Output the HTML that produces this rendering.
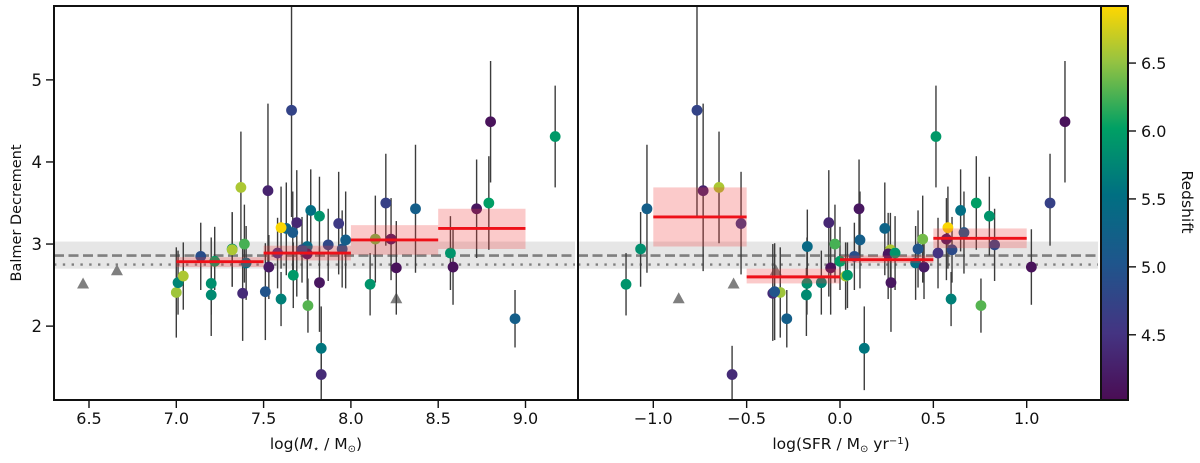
<!DOCTYPE html>
<html>
<head>
<meta charset="utf-8">
<title>Balmer Decrement</title>
<style>
html,body{margin:0;padding:0;background:#fff;}
svg{display:block;}
text{font-family:"DejaVu Sans","Liberation Sans",sans-serif;fill:#111;}
</style>
</head>
<body>
<svg id="chart" xmlns="http://www.w3.org/2000/svg" width="1200" height="463" viewBox="0 0 1200 463">
<defs>
<linearGradient id="cbar-grad" x1="0" y1="1" x2="0" y2="0"></linearGradient>
</defs>
</svg>
<script>
const logMass = [7.0,7.01,7.04,7.14,7.22,7.2,7.2,7.32,7.32,7.39,7.37,7.4,7.38,7.51,7.525,7.53,7.58,7.63,7.6,7.6,7.667,7.66,7.69,7.67,7.75,7.75,7.754,7.77,7.82,7.82,7.83,7.83,7.87,7.93,7.95,7.97,8.11,8.14,8.2,8.23,8.26,8.37,8.57,8.585,8.72,8.79,8.94,8.8,9.17,7.72];
const logSFR = [-0.32,-0.1,0.03,0.077,0.0,-0.177,-0.18,-1.068,0.27,-0.027,-0.648,0.405,-0.36,-0.35,-0.733,0.45,0.525,0.24,0.595,0.578,0.664,-0.766,-0.06,0.04,-0.175,0.258,0.755,0.646,0.8,0.273,0.13,-0.578,0.828,-0.53,0.418,0.107,-1.146,0.443,1.125,0.57,-0.05,-1.034,0.295,1.025,0.102,0.73,-0.285,1.205,0.514,0.6];
const balmer = [2.41,2.53,2.61,2.85,2.79,2.52,2.38,2.94,2.93,3.0,3.69,2.77,2.4,2.42,3.65,2.72,2.89,3.19,2.33,3.2,3.14,4.63,3.26,2.62,2.97,2.88,2.25,3.41,3.34,2.53,1.73,1.41,2.99,3.25,2.94,3.05,2.51,3.06,3.5,3.06,2.71,3.43,2.89,2.72,3.43,3.5,2.09,4.49,4.31,2.93];
const errLow = [0.55,0.39,0.41,0.41,0.35,0.38,0.5,0.46,0.45,0.47,0.68,0.45,0.58,0.59,0.98,0.39,0.43,0.57,0.33,0.5,0.5,1.3,0.9,0.4,0.45,0.55,0.33,0.5,0.48,0.6,0.51,0.5,0.44,0.62,0.47,0.59,0.38,0.53,0.52,0.5,0.57,0.78,0.45,0.46,0.6,0.57,0.35,0.74,0.62,0.4];
const errHigh = [0.55,0.39,0.41,0.41,0.42,0.56,0.33,0.45,0.45,0.48,0.68,0.45,0.6,0.59,1.06,0.39,0.43,0.56,0.33,0.5,0.5,1.6,0.64,0.4,0.45,0.5,0.33,0.5,0.48,0.43,0.51,0.35,0.44,0.63,0.47,0.59,0.38,0.53,0.6,0.5,0.57,0.78,0.45,0.46,0.6,0.57,0.35,0.74,0.62,0.4];
const redshift = [6.55,5.75,6.6,4.9,6.0,5.85,5.8,5.85,6.6,6.25,6.6,5.5,4.4,5.0,4.3,4.2,4.5,5.3,5.7,6.9,5.1,4.75,4.35,5.95,5.4,4.15,6.3,5.5,5.9,4.15,5.6,4.4,4.8,4.6,5.0,5.2,5.9,6.4,4.7,4.15,4.1,5.2,5.9,4.1,4.15,6.0,5.2,4.1,5.95,4.85];

const limitSFR = [-0.57, -0.344, -0.864];
const limitBalmer = [2.52, 2.68, 2.34];
const limitMassX = [6.466, 6.66, 8.26];

const massBinStart = [7.0, 7.5, 8.0, 8.5];
const massBinEnd = [7.5, 8.0, 8.5, 9.0];
const massBinValue = [2.785, 2.89, 3.05, 3.19];
const massBinLow = [2.72, 2.8, 2.87, 2.94];
const massBinHigh = [2.84, 2.98, 3.23, 3.43];

const sfrBinStart = [-1.0, -0.5, 0.0, 0.5];
const sfrBinEnd = [-0.5, 0.0, 0.5, 1.0];
const sfrBinValue = [3.33, 2.6, 2.81, 3.07];
const sfrBinLow = [2.97, 2.52, 2.77, 2.95];
const sfrBinHigh = [3.69, 2.7, 2.86, 3.19];

const refBandLow = 2.7;
const refBandHigh = 3.03;
const refDashed = 2.86;
const refDotted = 2.75;

const yTicks = [2, 3, 4, 5];
const massTicks = [6.5, 7.0, 7.5, 8.0, 8.5, 9.0];
const sfrTicks = [-1.0, -0.5, 0.0, 0.5, 1.0];
const zTicks = [4.5, 5.0, 5.5, 6.0, 6.5];

const cmapPos = [0, 0.17, 0.35, 0.52, 0.69, 0.86, 1];
const cmapColors = [[74,13,84],[68,52,130],[30,86,140],[0,111,130],[0,160,100],[150,195,65],[255,215,0]];

const svg = document.getElementById('chart');
const NS = 'http://www.w3.org/2000/svg';

const zMin = 4.02, zMax = 6.92;
const yMin = 1.1, yMax = 5.9;
const top_ = 6, bottom_ = 400;
const frameL = 54, frameM = 578, frameR = 1101, cbarR = 1128;

function yScale(v){ return bottom_ - (v - yMin) / (yMax - yMin) * (bottom_ - top_); }
function xMass(v){ return 89 + (v - 6.5) * 174.6; }
function xSFR(v){ return 840 + v * 186.7; }
function zScale(v){ return bottom_ - (v - zMin) / (zMax - zMin) * (bottom_ - top_); }
function zColor(z){
  const t = Math.min(1, Math.max(0, (z - zMin) / (zMax - zMin)));
  let i = 0;
  while (i < cmapPos.length - 2 && t > cmapPos[i + 1]) i++;
  const f = (t - cmapPos[i]) / (cmapPos[i + 1] - cmapPos[i]);
  const c = cmapColors[i].map((a, k) => Math.round(a + (cmapColors[i + 1][k] - a) * f));
  return 'rgb(' + c.join(',') + ')';
}
function shape(parent, tag, name, attrs){
  const el = document.createElementNS(NS, tag);
  
  
  for (const k in attrs) el.setAttribute(k, attrs[k]);
  parent.appendChild(el);
  return el;
}
function group(name, clip){
  const g = document.createElementNS(NS, 'g');
  
  
  if (clip) g.setAttribute('clip-path', 'url(#' + clip + ')');
  svg.appendChild(g);
  return g;
}
function clipRect(id, x, w){
  const cp = document.createElementNS(NS, 'clipPath');
  cp.setAttribute('id', id);
  const r = document.createElementNS(NS, 'rect');
  r.setAttribute('x', x);
  r.setAttribute('y', top_);
  r.setAttribute('width', w);
  r.setAttribute('height', bottom_ - top_);
  cp.appendChild(r);
  svg.querySelector('defs').appendChild(cp);
}
function label(v){ return v.toFixed(1).replace('-', '\u2212'); }

clipRect('clip-left', frameL, frameM - frameL);
clipRect('clip-right', frameM, frameR - frameM);

function drawPanel(name, clip, xf, xs, limX, binS, binE, binV, binL, binH, bandL, bandR){
  const g = group(name + '-panel', clip);
  shape(g, 'rect', name + '-reference-band', {x: bandL, y: yScale(refBandHigh), width: bandR - bandL, height: yScale(refBandLow) - yScale(refBandHigh), fill: '#e6e6e6'});
  shape(g, 'line', name + '-reference-dashed', {x1: bandL, x2: bandR, y1: yScale(refDashed), y2: yScale(refDashed), stroke: '#7f7f7f', 'stroke-width': 2.6, 'stroke-dasharray': '10 4.5'});
  shape(g, 'line', name + '-reference-dotted', {x1: bandL, x2: bandR, y1: yScale(refDotted), y2: yScale(refDotted), stroke: '#7f7f7f', 'stroke-width': 2.4, 'stroke-dasharray': '2.4 6.4'});
  limX.forEach((v, i) => {
    const cx = xf(v), cy = yScale(limitBalmer[i]);
    shape(g, 'path', name + '-upper-limit-triangle', {d: 'M' + (cx - 6) + ' ' + (cy + 5) + 'L' + cx + ' ' + (cy - 6) + 'L' + (cx + 6) + ' ' + (cy + 5) + 'Z', fill: '#7f7f7f'});
  });
  xs.forEach((v, i) => {
    const cx = xf(v);
    shape(g, 'line', name + '-error-bar', {x1: cx, x2: cx, y1: yScale(balmer[i] - errLow[i]), y2: yScale(balmer[i] + errHigh[i]), stroke: '#3c3c3c', 'stroke-width': 1.4});
  });
  xs.forEach((v, i) => {
    shape(g, 'circle', name + '-galaxy-point', {cx: xf(v), cy: yScale(balmer[i]), r: 5.4, fill: zColor(redshift[i])});
  });
  binS.forEach((s, i) => {
    shape(g, 'rect', name + '-bin-uncertainty', {x: xf(s), y: yScale(binH[i]), width: xf(binE[i]) - xf(s), height: yScale(binL[i]) - yScale(binH[i]), fill: '#f23c3c', 'fill-opacity': 0.27});
  });
  binS.forEach((s, i) => {
    shape(g, 'line', name + '-bin-median', {x1: xf(s), x2: xf(binE[i]), y1: yScale(binV[i]), y2: yScale(binV[i]), stroke: '#ee1119', 'stroke-width': 2.9});
  });
}

drawPanel('mass', 'clip-left', xMass, logMass, limitMassX, massBinStart, massBinEnd, massBinValue, massBinLow, massBinHigh, frameL, 575);
drawPanel('sfr', 'clip-right', xSFR, logSFR, limitSFR, sfrBinStart, sfrBinEnd, sfrBinValue, sfrBinLow, sfrBinHigh, frameM, 1098);

const grad = document.getElementById('cbar-grad');
for (let i = 0; i < cmapPos.length; i++){
  const st = document.createElementNS(NS, 'stop');
  st.setAttribute('offset', cmapPos[i]);
  st.setAttribute('stop-color', 'rgb(' + cmapColors[i].join(',') + ')');
  grad.appendChild(st);
}

const axes = group('axes', null);
shape(axes, 'rect', 'colorbar-gradient', {x: frameR, y: top_, width: cbarR - frameR, height: bottom_ - top_, fill: 'url(#cbar-grad)', stroke: '#111', 'stroke-width': 2});
shape(axes, 'rect', 'axes-frame', {x: frameL, y: top_, width: frameR - frameL, height: bottom_ - top_, fill: 'none', stroke: '#111', 'stroke-width': 2});
shape(axes, 'line', 'panel-divider', {x1: frameM, x2: frameM, y1: top_, y2: bottom_, stroke: '#111', 'stroke-width': 2});

function addText(name, str, x, y, anchor, size){
  const t = shape(axes, 'text', name, {x: x, y: y, 'text-anchor': anchor, 'font-size': size});
  t.textContent = str;
  return t;
}

yTicks.forEach(v => {
  const y = yScale(v);
  shape(axes, 'line', 'y-tick', {x1: frameL - 8, x2: frameL, y1: y, y2: y, stroke: '#111', 'stroke-width': 1.4});
  addText('y-tick-label', String(v), frameL - 12, y + 6, 'end', 16.5);
});
massTicks.forEach(v => {
  const x = xMass(v);
  shape(axes, 'line', 'mass-x-tick', {x1: x, x2: x, y1: bottom_, y2: bottom_ + 8, stroke: '#111', 'stroke-width': 1.4});
  addText('mass-x-tick-label', label(v), x, bottom_ + 24, 'middle', 16);
});
sfrTicks.forEach(v => {
  const x = xSFR(v);
  shape(axes, 'line', 'sfr-x-tick', {x1: x, x2: x, y1: bottom_, y2: bottom_ + 8, stroke: '#111', 'stroke-width': 1.4});
  addText('sfr-x-tick-label', label(v), x, bottom_ + 24, 'middle', 16);
});
zTicks.forEach(v => {
  const y = zScale(v);
  shape(axes, 'line', 'colorbar-tick', {x1: cbarR, x2: cbarR + 8, y1: y, y2: y, stroke: '#111', 'stroke-width': 1.4});
  addText('colorbar-tick-label', label(v), cbarR + 13, y + 6, 'start', 16);
});

const yTitle = addText('y-axis-title', 'Balmer Decrement', 0, 0, 'middle', 14.5);
yTitle.setAttribute('transform', 'translate(21 213) rotate(-90)');
const zTitle = addText('colorbar-title', 'Redshift', 0, 0, 'middle', 15.5);
zTitle.setAttribute('transform', 'translate(1182 202) rotate(90)');

const massTitle = shape(axes, 'text', 'mass-x-axis-title', {x: 316, y: 449, 'text-anchor': 'middle', 'font-size': 15.5});
massTitle.innerHTML = 'log(<tspan font-style="italic">M</tspan><tspan font-size="10" dy="3">\u22C6</tspan><tspan dy="-3"> / M</tspan><tspan font-size="10" dy="3">\u2299</tspan><tspan dy="-3">)</tspan>';
const sfrTitle = shape(axes, 'text', 'sfr-x-axis-title', {x: 841, y: 449, 'text-anchor': 'middle', 'font-size': 15.5});
sfrTitle.innerHTML = 'log(SFR / M<tspan font-size="10" dy="3">\u2299</tspan><tspan dy="-3"> yr</tspan><tspan font-size="10" dy="-5">\u22121</tspan><tspan dy="5">)</tspan>';
</script>
</body>
</html>
